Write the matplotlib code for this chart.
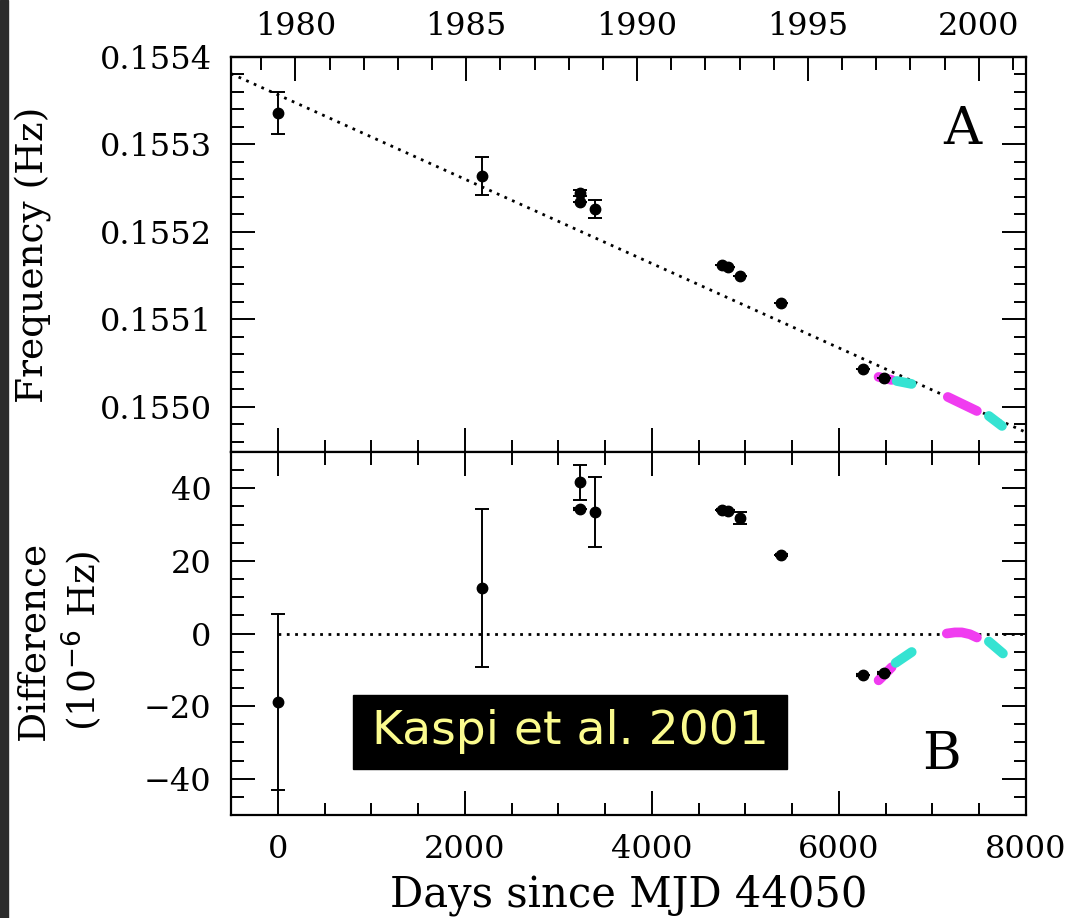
import matplotlib
matplotlib.use("Agg")
import matplotlib.pyplot as plt
from matplotlib.ticker import MultipleLocator, FixedLocator, FormatStrFormatter
from matplotlib.patches import Rectangle

# ── data (days since MJD 44050) ───────────────────────────────────────────────
DAYS      = [0, 2188, 3228, 3228, 3389, 4751, 4815, 4944, 5383, 6252, 6477]
FREQ      = [0.155336, 0.155264, 0.1552446, 0.1552343, 0.1552263, 0.1551623,
             0.1551600, 0.1551497, 0.1551189, 0.1550434, 0.1550331]
FREQ_ERR  = [0.000024, 0.0000217, 0.000003, 0.0, 0.0000098, 0.0, 0.0,
             0.0, 0.0, 0.0, 0.0]
DIFF      = [-18.8, 12.5, 41.6, 34.2, 33.4, 34.0, 33.7, 31.8, 21.6, -11.5, -11.0]
DIFF_ERR  = [24.2, 21.7, 4.7, 0.0, 9.6, 0.0, 0.0, 1.6, 0.0, 0.0, 0.0]
DAYS_ERR  = [0, 0, 0, 70, 0, 70, 70, 0, 70, 70, 70]

# linear fit drawn in panel A
FIT_DAYS = [-500, 8000]
FIT_FREQ = [0.155381, 0.154971]

# phase-connected timing segments (magenta / cyan)
SEG_DAYS = [[6424, 6563], [6617, 6777], [7164, 7475], [7603, 7743]]
SEG_FREQ = [[0.1550343, 0.1550309], [0.1550297, 0.1550263],
            [0.1550114, 0.1549954], [0.1549897, 0.1549783]]
SEG_DIFF_DAYS = [[6424, 6480, 6563], [6606, 6778],
                 [7153, 7239, 7314, 7400, 7475], [7603, 7753]]
SEG_DIFF = [[-12.9, -11.5, -9.3], [-8.1, -5.1],
            [0.0, 0.3, 0.3, -0.2, -1.1], [-2.2, -5.5]]
SEG_COLORS = ["#f03cf0", "#35e3d2", "#f03cf0", "#35e3d2"]

YEAR_MAJOR = [1980, 1985, 1990, 1995, 2000]
YEAR_MINOR = list(range(1979, 2002))

plt.rcParams["font.family"] = "DejaVu Serif"


def day2year(d):
    return 1980 + (d - 189) / 365.25


def year2day(y):
    return (y - 1980) * 365.25 + 189


fig = plt.figure(figsize=(10.67, 9.18), dpi=100)
fig.patches.append(Rectangle((0, 0), 8 / 1067, 1, transform=fig.transFigure,
                             color="#2b2b2b", zorder=0))

ax1 = fig.add_axes([231 / 1067, 1 - 452 / 918, 795 / 1067, 395 / 918])
ax2 = fig.add_axes([231 / 1067, 1 - 815 / 918, 795 / 1067, 363 / 918], sharex=ax1)

tick_kw = dict(direction="in", width=1.4, labelsize=23, pad=14)
DOTTED = dict(color="black", lw=2.0, ls=(0, (1, 2)))


def draw_points(ax, y, yerr):
    ax.errorbar(DAYS, y, xerr=DAYS_ERR, fmt="none", ecolor="black",
                elinewidth=3, capsize=0, zorder=4)
    ax.errorbar(DAYS, y, yerr=yerr, fmt="o", color="black", ms=7.5,
                elinewidth=1.4, capsize=5, capthick=1.4, zorder=5)


# ── panel A ──────────────────────────────────────────────────────────────────
ax1.plot(FIT_DAYS, FIT_FREQ, **DOTTED)
for d, f, c in zip(SEG_DAYS, SEG_FREQ, SEG_COLORS):
    ax1.plot(d, f, color=c, lw=7, solid_capstyle="round", zorder=3)
ax1.errorbar(DAYS, FREQ, yerr=FREQ_ERR, fmt="o", color="black", ms=7.5,
             elinewidth=1.4, capsize=5, capthick=1.4, zorder=5)
ax1.set_ylim(0.1549485, 0.1554)
ax1.set_xlim(-500, 8000)
ax1.yaxis.set_major_locator(MultipleLocator(0.0001))
ax1.yaxis.set_minor_locator(MultipleLocator(0.00002))
ax1.yaxis.set_major_formatter(FormatStrFormatter("%.4f"))
ax1.xaxis.set_major_locator(MultipleLocator(2000))
ax1.xaxis.set_minor_locator(MultipleLocator(500))
ax1.tick_params(which="both", left=True, right=True, top=False, bottom=True,
                labelbottom=False, **tick_kw)
ax1.tick_params(which="major", length=17)
ax1.tick_params(which="minor", length=9)
ax1.set_ylabel("Frequency (Hz)", fontsize=27)
ax1.yaxis.set_label_coords(-0.225, 0.5)
ax1.text(7314, 0.1553166, "A", fontsize=38, ha="center", va="center")

sec = ax1.secondary_xaxis("top", functions=(day2year, year2day))
sec.xaxis.set_major_locator(FixedLocator(YEAR_MAJOR))
sec.xaxis.set_minor_locator(FixedLocator(YEAR_MINOR))
sec.tick_params(which="both", direction="in", width=1.4, labelsize=23, pad=11)
sec.tick_params(which="major", length=17)
sec.tick_params(which="minor", length=9)

# ── panel B ──────────────────────────────────────────────────────────────────
ax2.plot([0, 8000], [0, 0], **DOTTED)
for d, v, c in zip(SEG_DIFF_DAYS, SEG_DIFF, SEG_COLORS):
    ax2.plot(d, v, color=c, lw=7, solid_capstyle="round", zorder=3)
draw_points(ax2, DIFF, DIFF_ERR)
ax2.set_ylim(-50, 50)
ax2.yaxis.set_major_locator(MultipleLocator(20))
ax2.yaxis.set_minor_locator(MultipleLocator(5))
ax2.tick_params(which="both", left=True, right=True, top=True, bottom=True,
                **tick_kw)
ax2.tick_params(which="major", length=17)
ax2.tick_params(which="minor", length=9)
ax2.set_xlabel("Days since MJD 44050", fontsize=30, labelpad=6)
ax2.set_ylabel("Difference\n(10$^{-6}$ Hz)", fontsize=27, linespacing=1.2)
ax2.yaxis.set_label_coords(-0.16, 0.48)
ax2.text(7099, -33.4, "B", fontsize=38, ha="center", va="center")

for ax in (ax1, ax2):
    for s in ax.spines.values():
        s.set_linewidth(1.6)
sec.spines["top"].set_linewidth(1.6)

# ── citation box ─────────────────────────────────────────────────────────────
fig.patches.append(Rectangle((353 / 1067, 1 - 769 / 918), 434 / 1067, 74 / 918,
                             transform=fig.transFigure, color="black", zorder=5))
fig.text(570 / 1067, 1 - 732 / 918, "Kaspi et al. 2001", fontsize=34,
         color="#fbfb8e", family="DejaVu Sans", ha="center", va="center",
         zorder=6)

fig.savefig("out.png", dpi=100)
